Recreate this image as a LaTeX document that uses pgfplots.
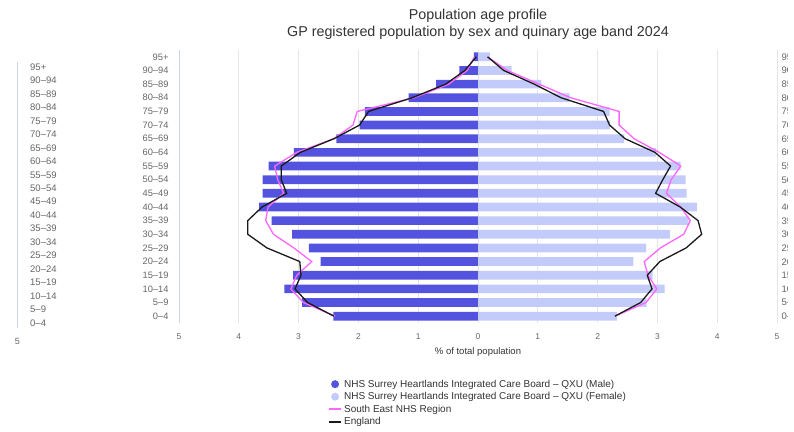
\documentclass[border=0pt]{standalone}
\usepackage{pgfplots}
\pgfplotsset{compat=1.18}
\usepackage{pgfplotstable}
\usepackage{fontspec}
\setmainfont{Liberation Sans}
\definecolor{male}{HTML}{5353DF}
\definecolor{female}{HTML}{C3CBFA}
\definecolor{sepink}{HTML}{FF66FF}
\definecolor{engc}{HTML}{1A1A1A}
\definecolor{gridc}{HTML}{E6E6E6}
\definecolor{axisc}{HTML}{CCD6EB}
\definecolor{lbl}{HTML}{666666}
\definecolor{txt}{HTML}{333333}

\pgfplotstableread{
idx male female engm engf sem sef
0 -2.42 2.32 -2.41 2.29 -2.39 2.29
1 -2.94 2.82 -2.85 2.72 -2.92 2.81
2 -3.24 3.12 -3.06 2.91 -3.13 2.99
3 -3.09 2.92 -2.96 2.83 -3.03 2.84
4 -2.63 2.60 -2.98 3.04 -2.78 2.78
5 -2.83 2.81 -3.53 3.48 -3.08 3.05
6 -3.11 3.21 -3.85 3.74 -3.42 3.44
7 -3.45 3.52 -3.85 3.68 -3.55 3.55
8 -3.66 3.66 -3.61 3.38 -3.51 3.39
9 -3.60 3.49 -3.20 2.97 -3.25 3.15
10 -3.60 3.47 -3.29 3.09 -3.35 3.23
11 -3.50 3.39 -3.29 3.22 -3.40 3.39
12 -3.08 2.98 -2.97 2.96 -3.03 3.03
13 -2.37 2.44 -2.41 2.46 -2.41 2.61
14 -1.98 2.21 -1.98 2.20 -2.09 2.36
15 -1.89 2.20 -1.83 2.10 -2.02 2.36
16 -1.16 1.53 -1.10 1.39 -1.07 1.55
17 -0.70 1.06 -0.54 0.94 -0.49 1.02
18 -0.31 0.56 -0.22 0.43 -0.18 0.49
19 -0.07 0.20 -0.03 0.16 -0.06 0.16
}\data

\begin{document}
\begin{tikzpicture}
\useasboundingbox (0pt,0pt) rectangle (794pt,431pt);
% titles
\node[font=\fontsize{14.3}{16}\selectfont, text=txt] at (478pt,415pt) {Population age profile};
\node[font=\fontsize{14.3}{16}\selectfont, text=txt] at (478pt,398pt) {GP registered population by sex and quinary age band 2024};
% ghost left axis
\draw[axisc, line width=0.8pt] (17.5pt,369pt) -- (17.5pt,103pt);
\foreach \lab [count=\i from 0] in {95+,90--94,85--89,80--84,75--79,70--74,65--69,60--64,55--59,50--54,45--49,40--44,35--39,30--34,25--29,20--24,15--19,10--14,5--9,0--4}{
  \node[anchor=west, inner sep=0pt, font=\fontsize{9.5}{10}\selectfont, text=lbl] at (30pt,{364pt-13.47pt*\i}) {\lab};
}
\node[font=\fontsize{9}{10}\selectfont, text=lbl] at (17.5pt,90pt) {5};
% ghost right axis labels (clipped as in the source)
\begin{scope}
\clip (779pt,0pt) rectangle (787pt,431pt);
\foreach \lab [count=\i from 0] in {95+,90--94,85--89,80--84,75--79,70--74,65--69,60--64,55--59,50--54,45--49,40--44,35--39,30--34,25--29,20--24,15--19,10--14,5--9,0--4}{
  \node[anchor=west, inner sep=0pt, font=\fontsize{9.5}{10}\selectfont, text=lbl] at (781.5pt,{374pt-13.65pt*\i}) {\lab};
}
\end{scope}
\begin{axis}[
  at={(179pt,108pt)}, anchor=south west,
  scale only axis, width=598pt, height=273pt,
  xmin=-5, xmax=5, ymin=-0.5, ymax=19.5,
  xtick={-5,-4,...,5},
  xticklabels={5,4,3,2,1,0,1,2,3,4,5},
  ytick={0,...,19},
  yticklabels={0--4,5--9,10--14,15--19,20--24,25--29,30--34,35--39,40--44,45--49,50--54,55--59,60--64,65--69,70--74,75--79,80--84,85--89,90--94,95+},
  major tick length=0pt,
  axis line style={draw=none},
  xmajorgrids, grid style={gridc, line width=0.8pt},
  /pgf/number format/assume math mode=true,
  xticklabel style={font=\fontsize{8.5}{10}\selectfont, text=lbl, yshift=-7pt},
  yticklabel style={font=\fontsize{9.3}{10}\selectfont, text=lbl, xshift=-7pt},
  xlabel={\% of total population},
  xlabel style={font=\fontsize{9.5}{11}\selectfont, text=txt, yshift=-1pt},
  legend style={at={(0.249,-0.2)}, anchor=north west, draw=none, fill=none,
    font=\fontsize{10}{11}\selectfont, text=txt, row sep=-0.2pt,
    inner sep=0pt},
  legend cell align=left,
]
\draw[axisc, line width=0.8pt] (axis cs:-5,-0.5) -- (axis cs:-5,19.5);
\addplot[xbar, bar width=8.7pt, bar shift=0pt, fill=male, draw=none,
  legend image code/.code={\fill[male] (5pt,0pt) circle (4pt);}]
  table[x=male, y=idx] {\data};
\addlegendentry{NHS Surrey Heartlands Integrated Care Board -- QXU (Male)}
\addplot[xbar, bar width=8.7pt, bar shift=0pt, fill=female, draw=none,
  legend image code/.code={\fill[female] (5pt,0pt) circle (4pt);}]
  table[x=female, y=idx] {\data};
\addlegendentry{NHS Surrey Heartlands Integrated Care Board -- QXU (Female)}
\addplot[sharp plot, sepink, line width=1.3pt, mark=none,
  legend image code/.code={\draw[sepink, line width=2pt] (-1pt,0pt) -- (11pt,0pt);}]
  table[x=sem, y=idx] {\data};
\addlegendentry{South East NHS Region}
\addplot[sharp plot, engc, line width=1.3pt, mark=none,
  legend image code/.code={\draw[engc, line width=2pt] (-1pt,0pt) -- (11pt,0pt);}]
  table[x=engm, y=idx] {\data};
\addlegendentry{England}
\addplot[sharp plot, sepink, line width=1.3pt, mark=none, forget plot]
  table[x=sef, y=idx] {\data};
\addplot[sharp plot, engc, line width=1.3pt, mark=none, forget plot]
  table[x=engf, y=idx] {\data};
\end{axis}
\end{tikzpicture}
\end{document}
